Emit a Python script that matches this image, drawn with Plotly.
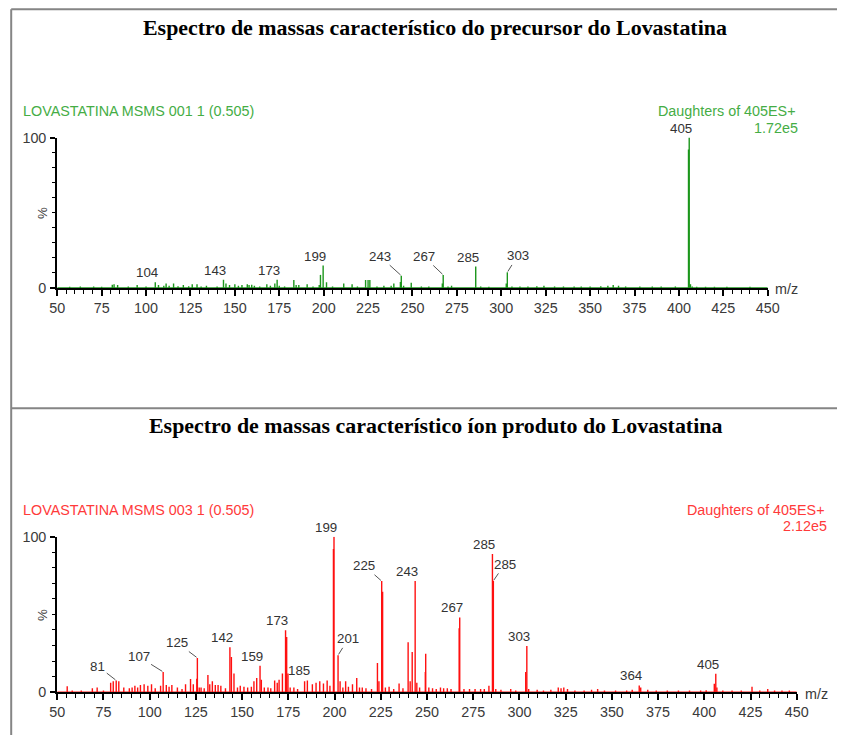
import plotly.graph_objects as go

# The photographed viewport behaves as ~866x760 CSS px (scale K) with an 8px body margin;
# layout coordinates below are given in target-image pixels and converted.
K = 845 / 866
OFF = 8
W, H = 849, 743

# ---------------- DATA ----------------
titles = ["Espectro de massas característico do precursor do Lovastatina",
          "Espectro de massas característico íon produto do Lovastatina"]
headers_left = ["LOVASTATINA MSMS 001 1 (0.505)", "LOVASTATINA MSMS 003 1 (0.505)"]
headers_right = ["Daughters of 405ES+", "Daughters of 405ES+"]
headers_tic = ["1.72e5", "2.12e5"]
x_ticks = [50, 75, 100, 125, 150, 175, 200, 225, 250, 275, 300, 325, 350, 375, 400, 425, 450]
y_ticks = [0, 100]

# Precursor spectrum (green)
top_mz = [57, 63, 70.5, 75, 81, 82, 84, 90, 95, 100, 105.2, 107, 110, 111.3, 113, 115.5, 118,
          121, 124, 126, 128.7, 131, 134, 140, 143.6, 145, 147, 150, 152, 154, 157, 158, 159.5,
          161, 164, 168, 170, 172.5, 173.8, 175, 178, 183.2, 184.5, 186, 190.7, 194, 197.5,
          198.2, 199.7, 201.6, 205, 211.3, 216, 219, 223.6, 225, 226, 230, 233.9, 238, 239.5,
          243.2, 243.7, 245, 249.3, 255, 259.2, 266.8, 267.3, 270, 272, 285.6, 288.4, 293,
          302.8, 303.4, 306, 310.5, 315, 320, 324, 330, 335, 341, 345, 350, 356, 360, 363, 366,
          370, 378, 385, 390, 398, 405.4, 405.8, 406.5, 407.5, 410, 415, 420, 427, 440]
top_int = [0.8, 1, 1, 0.8, 2.2, 2.5, 2, 1, 2, 1, 3.8, 2, 1.5, 3, 1.5, 3, 1.2,
           2, 1.2, 2.5, 2.5, 1, 1.5, 1, 5.5, 3, 2, 2.5, 1.5, 2, 2.5, 2, 2.2,
           1.5, 1, 2.5, 1.5, 3, 5.5, 1.5, 1, 5.3, 2, 2, 2.5, 1, 2,
           8.7, 14.9, 3.8, 1, 3, 2.5, 1, 5.3, 5.3, 5.3, 1, 1.5, 1.5, 3,
           4, 8.2, 1.5, 3.5, 1, 1, 3, 8.7, 1, 1.5, 14.2, 1, 0.8,
           3, 10.4, 1, 1, 1, 1.2, 1.5, 1, 1, 1, 1, 1, 1.2, 1.5, 2, 1.5,
           1, 1, 1, 1, 1, 92, 100, 2.5, 1, 0.8, 0.8, 0.8, 0.8, 0.8]
top_label_txt = ["104", "143", "173", "199", "243", "267", "285", "303", "405"]
top_label_mz = [105.2, 143.6, 173.8, 199.7, 243.7, 267.3, 285.6, 303.4, 405.8]

# Product-ion spectrum (red)
bot_mz = [55.4, 58.1, 63, 69, 71.6, 75, 78.9, 80.3, 81.9, 83.3, 86, 89, 90.5, 92, 93.5, 95, 97,
          99, 101, 103, 105.9, 107.3, 109, 110.5, 112, 115, 117.5, 119.4, 122.1, 123.6, 125.5,
          125.8, 126.8, 127.8, 129.5, 131.5, 132.5, 133.9, 135.5, 137, 138.5, 141, 143.4, 144.2,
          145.6, 147.5, 149, 151, 153, 155, 156.4, 157.9, 159.7, 160.4, 162, 164, 165.5, 167.6,
          169, 170, 171.8, 173.5, 174.1, 174.8, 176, 178, 180, 183.8, 185.3, 188, 190, 192, 194,
          196, 197.5, 199.4, 199.7, 201.9, 203, 204.5, 206, 207.5, 209.7, 212, 213.5, 215, 217,
          220, 223.2, 224, 225.5, 226, 227.5, 229.5, 232, 234.9, 237, 239.8, 240.9, 242, 243.6,
          244.5, 246, 249.1, 249.3, 251, 253, 255, 257.3, 259, 261, 263, 267.4, 267.7, 270, 273,
          276, 279, 281, 283.5, 285.4, 285.9, 287.2, 290, 295.3, 298, 303.4, 304, 305, 309.6,
          313, 317, 321, 322.5, 324, 326, 330, 335, 339, 342.3, 346, 352, 358, 361, 364.8, 365.6,
          369.4, 374, 380, 386, 392, 398, 401, 405.4, 406.2, 406.8, 410, 415, 420, 425.8, 430,
          434.3, 438, 442, 446]
bot_int = [3.7, 1, 1, 2.5, 3, 1, 6, 7, 7.5, 7, 3, 2.5, 3, 4, 3, 4.5, 5,
           4, 5, 2.5, 4, 13, 4.5, 3.5, 4.5, 3, 2, 5, 8.5, 5, 8.6,
           22, 3, 3, 2.5, 11, 5, 7, 4.5, 4.5, 4, 2.5, 28.8, 22.6,
           12, 3, 4, 3.5, 3, 3.5, 7, 9, 17, 8, 3, 3, 2.5, 7.5,
           6, 8, 12, 39.8, 35.5, 12, 3, 3, 2, 7, 7.5, 5, 6, 7, 5.5,
           7.5, 4, 92, 100, 23.7, 7, 3, 7, 3.5, 5, 9, 3, 3, 2.5,
           2, 18.7, 7, 71.4, 64.5, 3, 3.5, 2, 5.5, 2.5, 32, 7, 25.8, 71.4,
           6, 3, 13, 24.7, 3, 2.5, 2, 3, 2.5, 2.5, 2, 41, 48, 2, 2,
           2, 2, 2, 4, 88.8, 71.6, 2, 1.5, 2, 1, 13, 29.7, 2, 1.5,
           1, 1.5, 3, 2.5, 3, 2, 1, 1, 1.5, 2, 1, 1, 1, 1.5, 4.3, 3,
           1.5, 1, 1, 1, 1, 1, 1.2, 5.4, 11.8, 3, 1, 1, 1, 3.5, 1,
           2, 1, 1, 1]
bot_label_txt = ["81", "107", "125", "142", "159", "173", "185", "199", "201", "225", "243",
                 "267", "285", "285", "303", "364", "405"]
bot_label_mz = [81.9, 107.3, 125.8, 143.4, 159.7, 173.5, 185.3, 199.7, 201.9, 225.5, 243.6,
                267.7, 285.4, 285.9, 304, 364.8, 406.2]

# ---------------- STYLE ----------------
GREEN_LINE = "#1c961c"
GREEN_TXT = "#45ad45"
RED_LINE = "#ff1010"
RED_TXT = "#ff3a3a"
LABEL_CLR = "#333333"
TICK_CLR = "#3a3a3a"
SANS = "Liberation Sans, Arial, sans-serif"
SERIF = "Liberation Serif, Times New Roman, serif"


def px(x):
    """target-image pixel x -> paper fraction"""
    return (x / K - OFF) / W


def py(y):
    """target-image pixel y -> paper fraction"""
    return 1 - (y / K - OFF) / H


def fs(s):
    """target-image font size -> CSS size"""
    return round(s / K, 2)


def pp(v):
    """target-image pixel offset -> CSS pixels"""
    return v / K


def sticks(mz, inten):
    xs, ys = [50, 450, None], [0, 0, None]
    for m, v in zip(mz, inten):
        xs += [m, m, None]
        ys += [0, v, None]
    return xs, ys


fig = go.Figure()

xs, ys = sticks(top_mz, top_int)
fig.add_trace(go.Scatter(x=xs, y=ys, mode="lines", line=dict(color=GREEN_LINE, width=1.4),
                         xaxis="x", yaxis="y", hoverinfo="skip", showlegend=False))
xs, ys = sticks(bot_mz, bot_int)
fig.add_trace(go.Scatter(x=xs, y=ys, mode="lines", line=dict(color=RED_LINE, width=1.4),
                         xaxis="x2", yaxis="y2", hoverinfo="skip", showlegend=False))


def xaxis(domain, anchor):
    return dict(domain=domain, anchor=anchor, range=[50, 450], tickvals=x_ticks,
                ticks="outside", ticklen=6, tickwidth=1.5, tickcolor="black",
                minor=dict(dtick=5, tick0=50, ticks="outside", ticklen=4, tickwidth=1.2,
                           tickcolor="black", showgrid=False),
                showline=True, linewidth=2, linecolor="black", showgrid=False, zeroline=False,
                tickfont=dict(family=SANS, size=fs(14), color=TICK_CLR), fixedrange=True)


def yaxis(domain, anchor):
    return dict(domain=domain, anchor=anchor, range=[0, 100], tickvals=y_ticks,
                ticks="outside", ticklen=5, tickwidth=1.5, tickcolor="black",
                minor=dict(dtick=10, tick0=0, ticks="outside", ticklen=3, tickwidth=1.2,
                           tickcolor="black", showgrid=False),
                showline=True, linewidth=2, linecolor="black", showgrid=False, zeroline=False,
                tickfont=dict(family=SANS, size=fs(14), color=TICK_CLR), ticklabelstandoff=1,
                fixedrange=True)


ann = []


def peak_height(mz_list, int_list, m):
    best = 0
    for a, b in zip(mz_list, int_list):
        if abs(a - m) < 0.05:
            best = max(best, b)
    return best


LFONT = dict(family=SANS, size=fs(13), color=LABEL_CLR)

# leader-line offsets in pixels (ax, ay) for labels drawn with a tick line
top_leaders = {"243": (-21, -19), "267": (-19, -18), "303": (10, -16)}
for t, m in zip(top_label_txt, top_label_mz):
    h = peak_height(top_mz, top_int, m)
    if t in top_leaders:
        ax_, ay_ = top_leaders[t]
        ann.append(dict(x=m, y=h, xref="x", yref="y", text=t, showarrow=True, arrowhead=0,
                        arrowwidth=1, arrowcolor="#555555", ax=pp(ax_), ay=pp(ay_), standoff=1,
                        font=LFONT))
    else:
        ann.append(dict(x=m, y=h, xref="x", yref="y", text=t, showarrow=False,
                        yanchor="bottom", xshift=pp(-8), yshift=0, font=LFONT))

bot_leaders = {0: (-18, -14), 1: (-24, -15), 2: (-20, -15), 8: (10, -16), 9: (-17, -15),
               13: (11, -16)}
for i, (t, m) in enumerate(zip(bot_label_txt, bot_label_mz)):
    h = peak_height(bot_mz, bot_int, m)
    if i in bot_leaders:
        ax_, ay_ = bot_leaders[i]
        ann.append(dict(x=m, y=h, xref="x2", yref="y2", text=t, showarrow=True, arrowhead=0,
                        arrowwidth=1, arrowcolor="#555555", ax=pp(ax_), ay=pp(ay_), standoff=1,
                        font=LFONT))
    else:
        ann.append(dict(x=m, y=h, xref="x2", yref="y2", text=t, showarrow=False,
                        yanchor="bottom", xshift=pp(-8), yshift=0, font=LFONT))

# Titles
for t, y in zip(titles, [27, 424]):
    ann.append(dict(x=px(435), y=py(y), xref="paper", yref="paper", text="<b>%s</b>" % t,
                    showarrow=False, xanchor="center", yanchor="middle",
                    font=dict(family=SERIF, size=fs(21.4), color="black")))

# Headers
for (lx, ly, rx, ry, tx, ty), hl, hr, tic, col in zip(
        [(21, 111, 797, 111, 799, 127), (21, 508, 826, 508, 828, 524)],
        headers_left, headers_right, headers_tic, [GREEN_TXT, RED_TXT]):
    hf = dict(family=SANS, size=fs(14), color=col)
    ann.append(dict(x=px(lx), y=py(ly), xref="paper", yref="paper", text=hl, showarrow=False,
                    xanchor="left", yanchor="middle", font=hf))
    ann.append(dict(x=px(rx), y=py(ry), xref="paper", yref="paper", text=hr, showarrow=False,
                    xanchor="right", yanchor="middle", font=hf))
    ann.append(dict(x=px(tx), y=py(ty), xref="paper", yref="paper", text=tic, showarrow=False,
                    xanchor="right", yanchor="middle", font=hf))

# m/z and % labels
for x, y in [(772, 288), (802, 692)]:
    ann.append(dict(x=px(x), y=py(y), xref="paper", yref="paper", text="m/z", showarrow=False,
                    xanchor="left", yanchor="middle",
                    font=dict(family=SANS, size=fs(14), color=TICK_CLR)))
for y in [212, 613]:
    ann.append(dict(x=px(43), y=py(y), xref="paper", yref="paper", text="%", showarrow=False,
                    xanchor="center", yanchor="middle", textangle=-90,
                    font=dict(family=SANS, size=fs(13), color=TICK_CLR)))

shapes = [
    dict(type="line", xref="paper", yref="paper", x0=px(11), x1=px(11), y0=py(9), y1=0,
         line=dict(color="#858585", width=2)),
    dict(type="line", xref="paper", yref="paper", x0=px(11), x1=1, y0=py(9), y1=py(9),
         line=dict(color="#858585", width=2)),
    dict(type="line", xref="paper", yref="paper", x0=px(11), x1=1, y0=py(407), y1=py(407),
         line=dict(color="#858585", width=2)),
]

fig.update_layout(
    width=W, height=H, margin=dict(l=0, r=0, t=0, b=0),
    paper_bgcolor="white", plot_bgcolor="white",
    xaxis=xaxis([px(57), px(767)], "y"),
    yaxis=yaxis([py(287), py(137)], "x"),
    xaxis2=xaxis([px(57), px(796)], "y2"),
    yaxis2=yaxis([py(690), py(535)], "x2"),
    annotations=ann, shapes=shapes, showlegend=False,
)

fig.write_html("out.html")
